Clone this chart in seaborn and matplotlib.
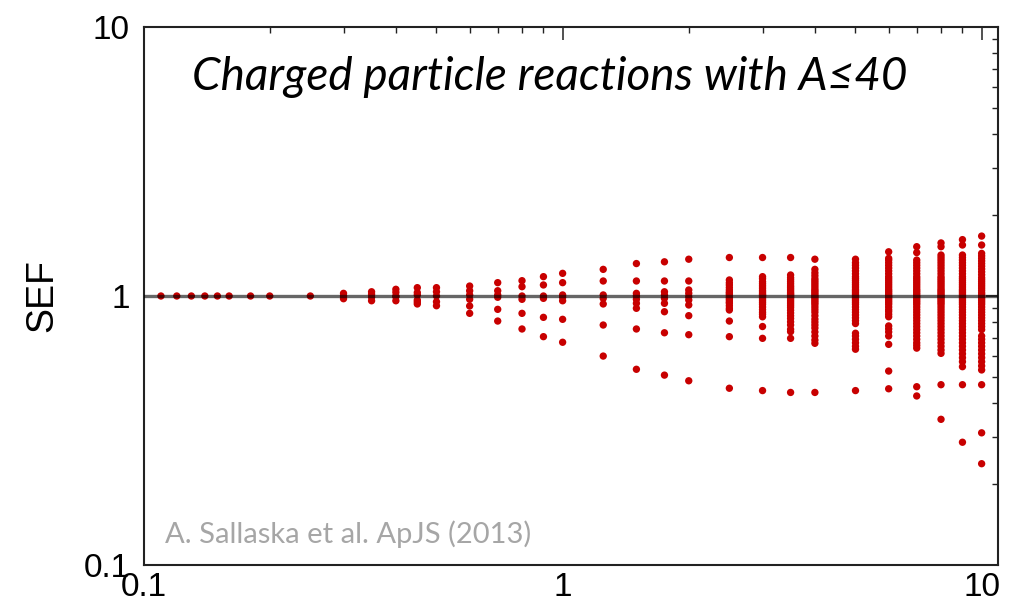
import pandas as pd
import matplotlib
matplotlib.use('Agg')
import matplotlib.pyplot as plt
import matplotlib.ticker as mticker
import seaborn as sns

# 온도 (T9) 별 SEF 값 - 그림에서 읽은 값
t9_flat = [0.11, 0.12, 0.13, 0.14, 0.15, 0.16, 0.18, 0.2, 0.25]
sef_flat = [1.0, 1.0, 1.0, 1.0, 1.0, 1.0, 1.0, 1.0, 1.0]

sef_0_3 = [1.023, 1.0, 0.977]
sef_0_35 = [1.037, 1.015, 0.989, 0.96]
sef_0_4 = [1.059, 1.032, 1.0, 0.994, 0.96]
sef_0_45 = [1.074, 1.03, 1.009, 0.966, 0.95, 0.934]
sef_0_5 = [1.074, 1.037, 1.0, 0.952, 0.92]
sef_0_6 = [1.089, 1.046, 1.009, 0.972, 0.918, 0.862]
sef_0_7 = [1.121, 1.046, 1.009, 0.989, 0.892, 0.807]
sef_0_8 = [1.140, 1.083, 1.0, 0.972, 0.862, 0.754]
sef_0_9 = [1.18, 1.099, 1.0, 0.98, 0.833, 0.706]
sef_1_0 = [1.214, 1.121, 1.009, 0.989, 0.96, 0.819, 0.673]
sef_1_25 = [1.256, 1.137, 1.009, 0.98, 0.934, 0.78, 0.598]
sef_1_5 = [1.32, 1.137, 1.023, 1.0, 0.972, 0.939, 0.9, 0.754, 0.534]
sef_1_75 = [1.34, 1.137, 1.037, 1.009, 0.98, 0.939, 0.874, 0.73, 0.508]
sef_2_0 = [1.37, 1.137, 1.053, 1.023, 0.994, 0.966, 0.926, 0.845, 0.718, 0.484]
sef_2_5 = [1.39, 1.147, 1.12, 1.099, 1.075, 1.053, 1.035, 1.023, 1.01, 0.994,
           0.98, 0.966, 0.95, 0.939, 0.92, 0.9, 0.887, 0.807, 0.706, 0.454]
sef_3_0 = [1.39, 1.18, 1.16, 1.13, 1.11, 1.09, 1.07, 1.05, 1.035, 1.02, 1.01,
           1.0, 0.99, 0.975, 0.96, 0.945, 0.93, 0.91, 0.89, 0.87, 0.855, 0.837,
           0.77, 0.696, 0.445]
sef_3_5 = [1.39, 1.197, 1.17, 1.15, 1.13, 1.11, 1.09, 1.075, 1.06, 1.045, 1.03,
           1.02, 1.01, 1.0, 0.99, 0.98, 0.965, 0.95, 0.935, 0.92, 0.905, 0.885,
           0.865, 0.845, 0.825, 0.802, 0.78, 0.752, 0.737, 0.696, 0.438]
sef_4_0 = [1.37, 1.256, 1.22, 1.19, 1.16, 1.14, 1.12, 1.10, 1.08, 1.06, 1.045,
           1.03, 1.015, 1.0, 0.99, 0.975, 0.96, 0.945, 0.93, 0.91, 0.89, 0.87,
           0.845, 0.82, 0.80, 0.78, 0.76, 0.735, 0.71, 0.686, 0.667, 0.438]
sef_5_0 = [1.37, 1.33, 1.30, 1.27, 1.24, 1.21, 1.18, 1.16, 1.14, 1.12, 1.10,
           1.08, 1.06, 1.045, 1.03, 1.015, 1.0, 0.99, 0.975, 0.96, 0.945, 0.93,
           0.91, 0.89, 0.87, 0.85, 0.83, 0.81, 0.79, 0.727, 0.71, 0.69, 0.67,
           0.65, 0.634, 0.445]
sef_6_0 = [1.46, 1.38, 1.36, 1.33, 1.30, 1.27, 1.24, 1.21, 1.18, 1.16, 1.14,
           1.12, 1.10, 1.08, 1.06, 1.045, 1.03, 1.015, 1.0, 0.99, 0.975, 0.96,
           0.945, 0.93, 0.91, 0.89, 0.875, 0.855, 0.837, 0.774, 0.755, 0.735,
           0.71, 0.661, 0.526, 0.452]
sef_7_0 = [1.525, 1.45, 1.36, 1.33, 1.30, 1.27, 1.24, 1.21, 1.18, 1.16, 1.14,
           1.12, 1.10, 1.08, 1.06, 1.045, 1.03, 1.015, 1.0, 0.99, 0.975, 0.96,
           0.945, 0.93, 0.91, 0.89, 0.87, 0.85, 0.83, 0.81, 0.79, 0.77, 0.75,
           0.73, 0.71, 0.69, 0.67, 0.655, 0.64, 0.46, 0.425]
sef_8_0 = [1.575, 1.525, 1.42, 1.39, 1.36, 1.33, 1.30, 1.27, 1.24, 1.21, 1.18,
           1.16, 1.14, 1.12, 1.10, 1.08, 1.06, 1.045, 1.03, 1.015, 1.0, 0.99,
           0.975, 0.96, 0.945, 0.93, 0.91, 0.89, 0.87, 0.85, 0.83, 0.81, 0.79,
           0.77, 0.75, 0.73, 0.71, 0.69, 0.67, 0.65, 0.63, 0.612, 0.468, 0.348]
sef_9_0 = [1.62, 1.547, 1.42, 1.39, 1.36, 1.33, 1.30, 1.27, 1.24, 1.21, 1.18,
           1.16, 1.14, 1.12, 1.10, 1.08, 1.06, 1.045, 1.03, 1.015, 1.0, 0.99,
           0.975, 0.96, 0.945, 0.93, 0.91, 0.89, 0.87, 0.85, 0.83, 0.81, 0.79,
           0.77, 0.75, 0.73, 0.71, 0.69, 0.67, 0.65, 0.63, 0.61, 0.59, 0.57,
           0.546, 0.468, 0.286]
sef_10_0 = [1.67, 1.547, 1.44, 1.41, 1.38, 1.35, 1.32, 1.29, 1.26, 1.23, 1.20,
            1.17, 1.15, 1.13, 1.11, 1.09, 1.07, 1.05, 1.03, 1.015, 1.0, 0.99,
            0.975, 0.96, 0.945, 0.93, 0.91, 0.89, 0.87, 0.85, 0.83, 0.81, 0.79,
            0.77, 0.75, 0.71, 0.69, 0.67, 0.65, 0.63, 0.61, 0.59, 0.57, 0.55,
            0.531, 0.468, 0.31, 0.238]

t9_spread = [0.3, 0.35, 0.4, 0.45, 0.5, 0.6, 0.7, 0.8, 0.9, 1.0, 1.25, 1.5,
             1.75, 2.0, 2.5, 3.0, 3.5, 4.0, 5.0, 6.0, 7.0, 8.0, 9.0, 10.0]
sef_spread = [sef_0_3, sef_0_35, sef_0_4, sef_0_45, sef_0_5, sef_0_6, sef_0_7,
              sef_0_8, sef_0_9, sef_1_0, sef_1_25, sef_1_5, sef_1_75, sef_2_0,
              sef_2_5, sef_3_0, sef_3_5, sef_4_0, sef_5_0, sef_6_0, sef_7_0,
              sef_8_0, sef_9_0, sef_10_0]

# 긴 형태의 데이터프레임으로 변환
rows = [(t, s) for t, s in zip(t9_flat, sef_flat)]
for t, col in zip(t9_spread, sef_spread):
    rows += [(t, s) for s in col]
df = pd.DataFrame(rows, columns=['T9', 'SEF'])

sns.set_style('white')
plt.rcParams['font.family'] = ['Liberation Sans', 'DejaVu Sans']
plt.rcParams['text.color'] = 'black'
plt.rcParams['axes.labelcolor'] = 'black'
plt.rcParams['xtick.labelcolor'] = 'black'
plt.rcParams['ytick.labelcolor'] = 'black'

fig = plt.figure(figsize=(10.17, 6.05), dpi=100)
ax = fig.add_axes([0.1412, 0.0661, 0.8401, 0.8893])

sns.scatterplot(data=df, x='T9', y='SEF', ax=ax, color='#c80000',
                s=28, edgecolor='none', zorder=2)
ax.axhline(1.0, color='black', alpha=0.6, lw=2.4, zorder=3)

ax.set_xscale('log')
ax.set_yscale('log')
ax.set_xlim(0.1, 10.94)
ax.set_ylim(0.1, 10)

fmt = mticker.FuncFormatter(lambda v, p: f'{v:g}')
ax.xaxis.set_major_locator(mticker.FixedLocator([0.1, 1, 10]))
ax.yaxis.set_major_locator(mticker.FixedLocator([0.1, 1, 10]))
ax.xaxis.set_major_formatter(fmt)
ax.yaxis.set_major_formatter(fmt)
ax.xaxis.set_minor_locator(mticker.LogLocator(base=10, subs=range(2, 10)))
ax.yaxis.set_minor_locator(mticker.LogLocator(base=10, subs=range(2, 10)))
ax.xaxis.set_minor_formatter(mticker.NullFormatter())
ax.yaxis.set_minor_formatter(mticker.NullFormatter())

ax.tick_params(which='both', direction='in', top=True, right=True,
               color='#222222', labelsize=24)
ax.tick_params(which='major', length=9, width=1.1)
ax.tick_params(which='minor', length=4.5, width=1.0)
ax.tick_params(axis='x', which='major', pad=5)
ax.tick_params(axis='y', which='major', pad=10)
for sp in ax.spines.values():
    sp.set_color('#222222')
    sp.set_linewidth(1.5)

ax.set_xlabel('')
ax.set_ylabel('SEF', fontsize=27)
ax.yaxis.set_label_coords(-0.098, 0.5)

ax.text(0.0566, 0.883, 'Charged particle reactions with A≤40',
        transform=ax.transAxes, fontsize=33, style='italic', color='black',
        family=['Lato', 'DejaVu Sans'], ha='left', va='baseline')
ax.text(0.025, 0.04, 'A. Sallaska et al. ApJS (2013)',
        transform=ax.transAxes, fontsize=21, color='#a6a6a6',
        family=['Lato', 'DejaVu Sans'], ha='left', va='baseline')

fig.savefig('out.png', dpi=100)
